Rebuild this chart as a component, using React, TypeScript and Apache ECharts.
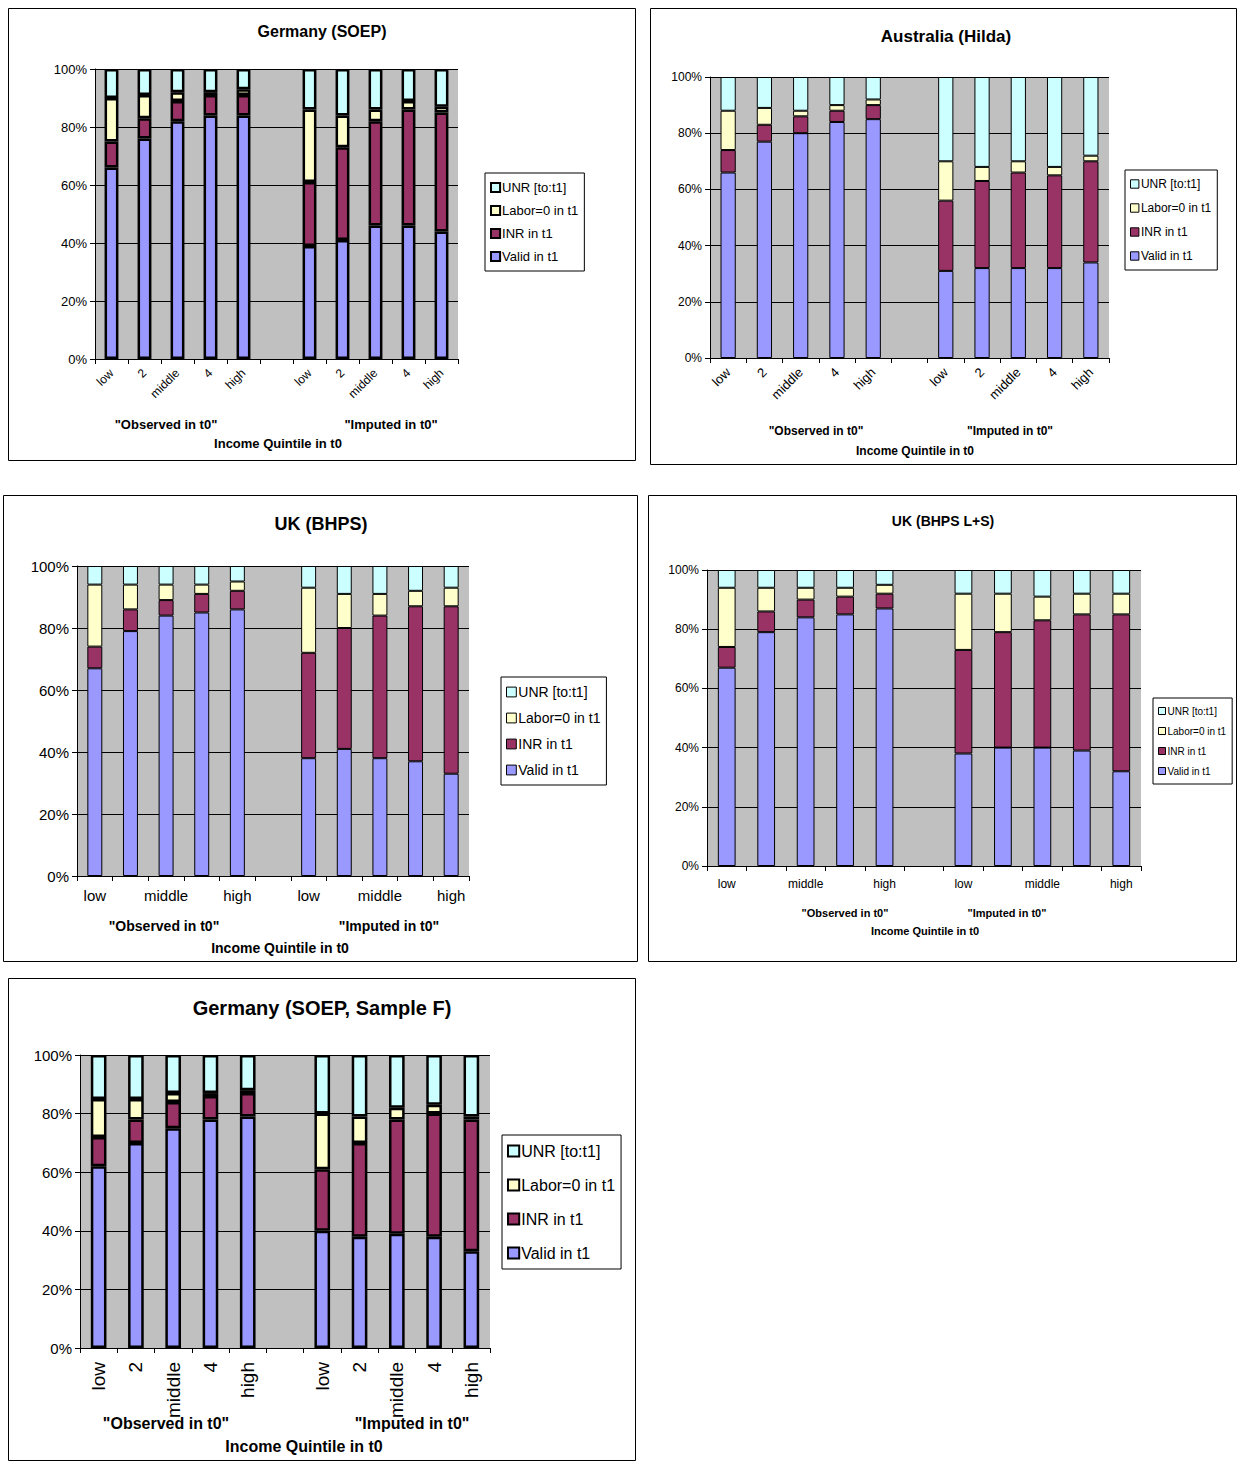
import { useEffect, useRef } from 'react'
import * as echarts from 'echarts'

const categories = ['low', '2', 'middle', '4', 'high', '', 'low', '2', 'middle', '4', 'high']
const seriesNames = ['Valid in t1', 'INR in t1', 'Labor=0 in t1', 'UNR [to:t1]']
const colors = ['#9999ff', '#993366', '#ffffcc', '#ccffff']

// each panel: [valid, inr, labor, unr] per category ('-' = gap)
const soepValid = [66, 76, 82, 84, 84, '-', 39, 41, 46, 46, 44]
const soepInr = [9, 7, 7, 7, 7, '-', 22, 32, 36, 40, 41]
const soepLabor = [15, 8, 3, 1, 2, '-', 25, 11, 4, 3, 2]
const soepUnr = [10, 9, 8, 8, 7, '-', 14, 16, 14, 11, 13]

const hildaValid = [66, 77, 80, 84, 85, '-', 31, 32, 32, 32, 34]
const hildaInr = [8, 6, 6, 4, 5, '-', 25, 31, 34, 33, 36]
const hildaLabor = [14, 6, 2, 2, 2, '-', 14, 5, 4, 3, 2]
const hildaUnr = [12, 11, 12, 10, 8, '-', 30, 32, 30, 32, 28]

const bhpsValid = [67, 79, 84, 85, 86, '-', 38, 41, 38, 37, 33]
const bhpsInr = [7, 7, 5, 6, 6, '-', 34, 39, 46, 50, 54]
const bhpsLabor = [20, 8, 5, 3, 3, '-', 21, 11, 7, 5, 6]
const bhpsUnr = [6, 6, 6, 6, 5, '-', 7, 9, 9, 8, 7]

const lsValid = [67, 79, 84, 85, 87, '-', 38, 40, 40, 39, 32]
const lsInr = [7, 7, 6, 6, 5, '-', 35, 39, 43, 46, 53]
const lsLabor = [20, 8, 4, 3, 3, '-', 19, 13, 8, 7, 7]
const lsUnr = [6, 6, 6, 6, 5, '-', 8, 8, 9, 8, 8]

const sfValid = [62, 70, 75, 78, 79, '-', 40, 38, 39, 38, 33]
const sfInr = [10, 8, 9, 8, 8, '-', 21, 32, 39, 42, 45]
const sfLabor = [13, 7, 3, 1, 1, '-', 19, 9, 4, 3, 1]
const sfUnr = [15, 15, 13, 13, 12, '-', 20, 21, 18, 17, 21]

const yTicks = [0, 20, 40, 60, 80, 100]

const ARIAL = 'Liberation Sans, Arial, sans-serif'
const NARROW = 'Liberation Sans Narrow, Liberation Sans, Arial, sans-serif'

interface Panel {
  box: number[]
  plot: number[] // left, top, right, bottom
  legend: number[] // left, top
  legendFont: number
  legendGap: number
  data: (number | string)[][]
  font: string
  title: string
  titlePos: number[]
  titleSize: number
  subs: number[][] // obs x, imp x, y, quint x, quint y
  subSize: number
  yFont: number
  xFont: number
  xRotate: number
  xInterval: number
  border: number
  barWidth: string
}

const panels: Panel[] = [
  {
    box: [8, 8, 636, 461], plot: [95, 69, 458, 359], legend: [485, 173], legendFont: 13, legendGap: 10,
    data: [soepValid, soepInr, soepLabor, soepUnr], font: ARIAL,
    title: 'Germany (SOEP)', titlePos: [322, 31], titleSize: 16,
    subs: [[166, 391, 424, 278, 443]], subSize: 13, yFont: 13, xFont: 12, xRotate: 45, xInterval: 0, border: 2.5, barWidth: '42%',
  },
  {
    box: [650, 8, 1237, 465], plot: [710, 77, 1109, 358], legend: [1125, 170], legendFont: 12, legendGap: 12,
    data: [hildaValid, hildaInr, hildaLabor, hildaUnr], font: NARROW,
    title: 'Australia (Hilda)', titlePos: [946, 36], titleSize: 17,
    subs: [[816, 1010, 431, 915, 451]], subSize: 12, yFont: 12, xFont: 13, xRotate: 45, xInterval: 0, border: 1, barWidth: '42%',
  },
  {
    box: [3, 495, 638, 962], plot: [77, 566, 469, 876], legend: [501, 677], legendFont: 14, legendGap: 12,
    data: [bhpsValid, bhpsInr, bhpsLabor, bhpsUnr], font: NARROW,
    title: 'UK (BHPS)', titlePos: [321, 524], titleSize: 18,
    subs: [[164, 389, 926, 280, 948]], subSize: 14, yFont: 15, xFont: 15, xRotate: 0, xInterval: 1, border: 1, barWidth: '42%',
  },
  {
    box: [648, 495, 1237, 962], plot: [707, 570, 1141, 866], legend: [1153, 698], legendFont: 10, legendGap: 10,
    data: [lsValid, lsInr, lsLabor, lsUnr], font: NARROW,
    title: 'UK (BHPS L+S)', titlePos: [943, 521], titleSize: 14,
    subs: [[845, 1007, 913, 925, 931]], subSize: 11, yFont: 12, xFont: 12, xRotate: 0, xInterval: 1, border: 1, barWidth: '45%',
  },
  {
    box: [8, 978, 636, 1461], plot: [80, 1055, 490, 1348], legend: [502, 1135], legendFont: 16, legendGap: 18,
    data: [sfValid, sfInr, sfLabor, sfUnr], font: ARIAL,
    title: 'Germany (SOEP, Sample F)', titlePos: [322, 1008], titleSize: 20,
    subs: [[166, 412, 1423, 304, 1446]], subSize: 16, yFont: 15, xFont: 19, xRotate: 90, xInterval: 0, border: 2.5, barWidth: '42%',
  },
]

export default function App() {
  const ref = useRef<HTMLDivElement>(null)

  useEffect(() => {
    if (!ref.current) return
    const chart = echarts.init(ref.current, undefined, { renderer: 'svg' })

    const graphic: any[] = []
    const grid: any[] = []
    const xAxis: any[] = []
    const yAxis: any[] = []
    const legend: any[] = []
    const series: any[] = []

    panels.forEach((p, i) => {
      const [bx0, by0, bx1, by1] = p.box
      graphic.push({
        type: 'rect', shape: { x: bx0 + 0.5, y: by0 + 0.5, width: bx1 - bx0 - 1, height: by1 - by0 - 1 },
        style: { fill: 'none', stroke: '#000', lineWidth: 1 }, z: -1,
      })
      graphic.push({
        type: 'text', x: p.titlePos[0], y: p.titlePos[1],
        style: { text: p.title, font: `bold ${p.titleSize}px ${p.font}`, fill: '#000', textAlign: 'center', textVerticalAlign: 'middle' },
      })
      const s = p.subs[0]
      const subFont = `bold ${p.subSize}px ${p.font}`
      graphic.push({ type: 'text', x: s[0], y: s[2], style: { text: '"Observed in t0"', font: subFont, fill: '#000', textAlign: 'center', textVerticalAlign: 'middle' } })
      graphic.push({ type: 'text', x: s[1], y: s[2], style: { text: '"Imputed in t0"', font: subFont, fill: '#000', textAlign: 'center', textVerticalAlign: 'middle' } })
      graphic.push({ type: 'text', x: s[3], y: s[4], style: { text: 'Income Quintile in t0', font: subFont, fill: '#000', textAlign: 'center', textVerticalAlign: 'middle' } })

      const [l, t, r, b] = p.plot
      grid.push({
        left: l, top: t, width: r - l, height: b - t,
        show: true, backgroundColor: '#c0c0c0', borderWidth: 0, containLabel: false,
      })
      xAxis.push({
        type: 'category', gridIndex: i, data: categories, boundaryGap: true,
        axisLine: { lineStyle: { color: '#000', width: 1 } },
        axisTick: { show: true, interval: 0, length: 5, lineStyle: { color: '#000' } },
        axisLabel: {
          interval: p.xInterval, rotate: p.xRotate, color: '#000', fontSize: p.xFont, fontFamily: p.font,
          margin: p.xRotate === 90 ? 14 : 12,
        },
        splitLine: { show: false },
      })
      yAxis.push({
        type: 'value', gridIndex: i, min: 0, max: 100, interval: 20,
        axisLine: { show: true, lineStyle: { color: '#000' } },
        axisTick: { show: true, length: 5, lineStyle: { color: '#000' } },
        axisLabel: { color: '#000', fontSize: p.yFont, fontFamily: p.font, formatter: (v: number) => (yTicks.includes(v) ? v + '%' : '') },
        splitLine: { show: true, lineStyle: { color: '#000', width: 1 } },
      })
      legend.push({
        data: [...seriesNames].reverse(), orient: 'vertical', left: p.legend[0], top: p.legend[1],
        backgroundColor: '#fff', borderColor: '#000', borderWidth: 1, padding: [8, 6, 8, 5],
        itemWidth: p.legendFont * 0.7, itemHeight: p.legendFont * 0.7, itemGap: p.legendGap, icon: 'rect', selectedMode: false,
        textStyle: { fontSize: p.legendFont, fontFamily: p.font, color: '#000', padding: [0, 0, 0, -3] },
        itemStyle: { borderColor: '#000', borderWidth: p.border > 1 ? 2 : 1 },
      })
      seriesNames.forEach((name, k) => {
        series.push({
          type: 'bar', name, stack: 'p' + i, xAxisIndex: i, yAxisIndex: i,
          data: p.data[k], barWidth: p.barWidth,
          itemStyle: { color: colors[k], borderColor: '#000', borderWidth: p.border },
        })
      })
    })

    chart.setOption({
      animation: false,
      backgroundColor: '#fff',
      textStyle: { fontFamily: ARIAL },
      graphic, grid, xAxis, yAxis, legend, series,
    })
    return () => chart.dispose()
  }, [])

  return <div ref={ref} style={{ position: 'absolute', left: 0, top: 0, width: 1237, height: 1461 }} />
}
